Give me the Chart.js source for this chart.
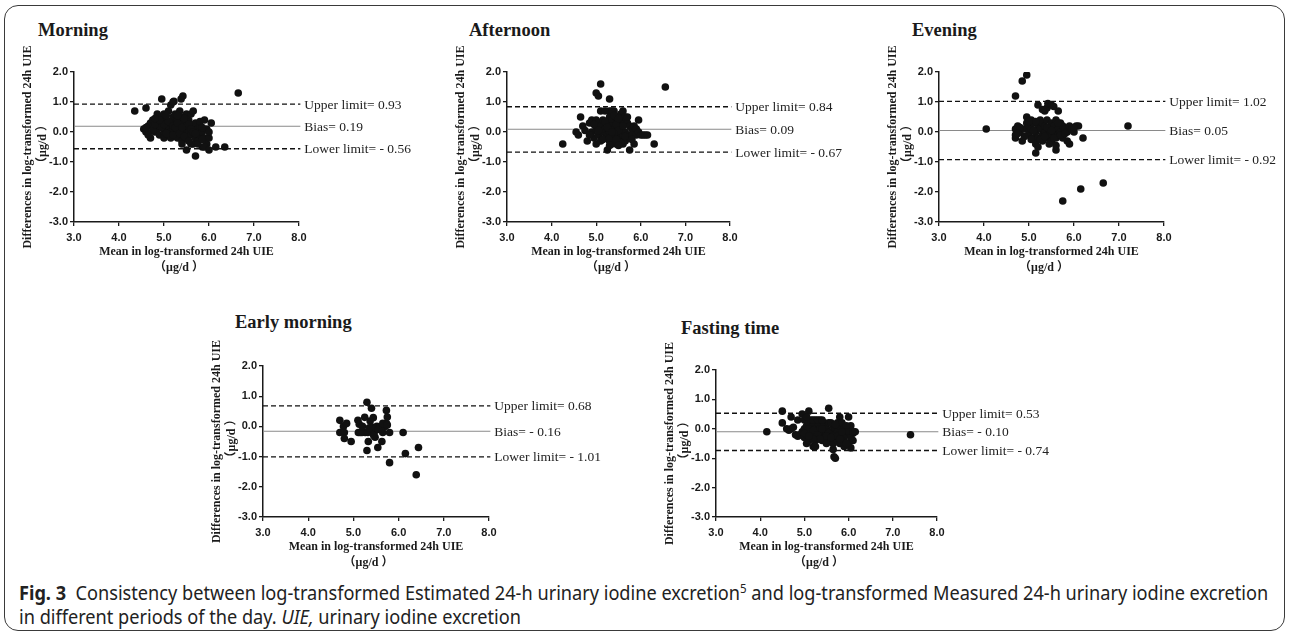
<!DOCTYPE html>
<html>
<head>
<meta charset="utf-8">
<script src="https://cdn.jsdelivr.net/npm/chart.js@4.4.1/dist/chart.umd.min.js"></script>
<style>
  body { margin: 0; width: 1290px; height: 636px; background: #fff; position: relative; overflow: hidden; }
  .frame { position: absolute; left: 4px; top: 5px; width: 1279px; height: 624px; border: 1.5px solid #3a3a3a; border-radius: 14px; }
  canvas { position: absolute; }
  .ttl { position: absolute; font: bold 18.5px "Liberation Serif", serif; line-height: 18px; color: #1a1a1a; white-space: nowrap; }
  .cap { position: absolute; left: 19px; top: 581px; font: 19px "Noto Sans", sans-serif; line-height: 24px; color: #222; white-space: nowrap; }
  .cap .ln { transform-origin: 0 50%; width: max-content; }
  .cap sup { font-size: 12px; line-height: 0; }
</style>
</head>
<body>
<div class="frame"></div>
<div class="cap" id="cap">
  <div class="ln"><b>Fig. 3</b>&nbsp; Consistency between log-transformed Estimated 24-h urinary iodine excretion<sup>5</sup> and log-transformed Measured 24-h urinary iodine excretion</div>
  <div class="ln">in different periods of the day. <i>UIE,</i> urinary iodine excretion</div>
</div>
<script>
const panelNames = ['Morning', 'Afternoon', 'Evening', 'Early morning', 'Fasting time'];
const xTicks = [3, 4, 5, 6, 7, 8];
const yTicks = [-3, -2, -1, 0, 1, 2];
const upperLimits = [0.93, 0.84, 1.02, 0.68, 0.53];
const biasValues = [0.19, 0.09, 0.05, -0.16, -0.10];
const lowerLimits = [-0.56, -0.67, -0.92, -1.01, -0.74];

// mean (x) vs difference (y)
const morningPts = [
  [4.35,0.7],[4.6,0.8],[4.95,1.1],[5.15,0.9],[5.2,1.0],[5.22,1.02],[5.38,1.1],[5.42,1.2],[6.65,1.3],
  [4.55,0.1],[4.6,0.0],[4.65,0.2],[4.7,0.3],[4.7,-0.2],[4.75,0.4],[4.8,0.0],[4.85,0.6],[4.85,0.1],[4.9,0.2],[4.9,-0.1],
  [4.95,0.5],[4.95,0.3],[5.0,0.6],[5.0,0.0],[5.0,-0.2],[5.05,0.4],[5.05,0.1],[5.1,0.7],[5.1,0.2],[5.1,-0.1],
  [5.15,0.3],[5.15,0.0],[5.15,-0.2],[5.2,0.5],[5.2,0.1],[5.25,0.6],[5.25,0.3],[5.25,-0.1],[5.3,0.4],[5.3,0.0],
  [5.3,-0.2],[5.35,0.7],[5.35,0.2],[5.35,0.1],[5.4,0.5],[5.4,-0.3],[5.4,-0.4],[5.45,0.3],[5.45,0.0],[5.5,0.6],
  [5.5,0.2],[5.5,-0.2],[5.55,0.4],[5.55,0.0],[5.6,0.6],[5.6,-0.1],[5.65,0.7],[5.65,0.2],[5.65,-0.4],[5.7,0.3],
  [5.7,-0.2],[5.75,0.1],[5.75,-0.3],[5.8,0.2],[5.8,-0.1],[5.85,0.0],[5.85,-0.5],[5.9,0.4],[5.9,-0.2],[5.95,0.1],
  [5.95,-0.4],[6.0,-0.2],[6.0,0.0],[6.05,0.3],[5.5,-0.6],[5.6,-0.4],[5.7,-0.8],[5.75,-0.4],[5.9,-0.5],[6.0,-0.6],
  [6.15,-0.5],[6.35,-0.5],[4.6,0.15],[4.75,0.05],[4.8,0.25],[4.95,0.15],[5.0,0.25],[5.05,-0.05],[5.1,0.35],[5.2,0.2],
  [5.2,-0.1],[5.25,0.15],[5.3,0.3],[5.35,-0.05],[5.4,0.15],[5.45,0.45],[5.05,0.55],[4.9,0.4],[5.3,0.55],[5.55,0.25],
  [5.6,0.1],[5.65,0.0],[5.8,0.35],[5.85,0.15],[5.7,-0.05],[4.65,-0.1],[4.8,0.45],[5.45,-0.15],[5.55,-0.3],[5.85,-0.25]
];
const afternoonPts = [
  [4.25,-0.4],[5.1,1.6],[5.0,1.3],[5.05,1.2],[5.3,1.1],[6.55,1.5],[4.65,0.5],[4.55,0.0],[4.6,-0.1],[4.7,0.2],
  [4.8,-0.3],[4.85,0.3],[4.9,0.4],[4.9,0.0],[4.95,-0.2],[5.0,0.4],[5.0,0.1],[5.0,-0.4],[5.05,0.3],[5.05,-0.1],
  [5.1,0.7],[5.1,0.2],[5.1,-0.3],[5.15,0.4],[5.15,0.0],[5.2,0.1],[5.2,-0.2],[5.25,0.3],[5.25,-0.1],[5.25,-0.6],
  [5.3,0.7],[5.3,0.5],[5.3,0.0],[5.3,-0.3],[5.35,0.4],[5.35,0.2],[5.35,-0.1],[5.35,-0.4],[5.4,0.7],[5.4,0.1],
  [5.4,-0.2],[5.4,-0.3],[5.45,0.5],[5.45,0.0],[5.45,-0.4],[5.5,0.3],[5.5,-0.1],[5.5,-0.3],[5.55,0.6],[5.55,0.1],
  [5.55,-0.2],[5.6,0.7],[5.6,0.4],[5.6,-0.1],[5.6,-0.4],[5.65,0.5],[5.65,0.0],[5.65,-0.3],[5.7,0.3],[5.7,-0.1],
  [5.75,0.2],[5.75,-0.2],[5.75,-0.6],[5.8,0.1],[5.8,-0.1],[5.85,0.2],[5.85,-0.4],[5.9,0.1],[5.9,-0.1],[5.95,0.4],
  [5.95,0.0],[6.0,-0.1],[6.05,-0.1],[6.1,-0.1],[6.15,-0.1],[6.3,-0.4],[5.2,0.7],[5.35,0.7],[4.95,0.25],[5.15,-0.25],
  [5.2,0.35],[5.45,0.25],[5.5,0.05],[5.55,-0.35],[5.3,-0.2],[5.4,-0.05],[5.25,0.15],[5.6,0.2],[5.7,0.5],[5.05,0.05],
  [4.75,0.05],[4.85,-0.1],[5.65,-0.15],[5.45,-0.25],[5.35,0.0],[5.4,0.55],[5.5,0.45],[5.3,-0.45],[5.5,-0.45],[5.8,-0.25]
];
const eveningPts = [
  [4.05,0.1],[4.7,1.2],[4.85,1.7],[4.95,1.9],[7.2,0.2],[5.75,-2.3],[6.15,-1.9],[6.65,-1.7],[6.2,-0.2],[5.15,-0.7],
  [5.6,-0.6],[5.9,-0.4],[5.85,-0.3],[5.65,0.7],[5.2,0.9],[5.35,0.7],[5.4,0.8],[5.42,0.95],[5.5,0.9],[5.55,0.85],
  [5.3,0.75],[4.7,-0.2],[4.7,-0.1],[4.7,0.1],[4.75,0.2],[4.8,0.0],[4.85,-0.3],[4.9,0.1],[4.95,0.5],[4.95,0.3],
  [5.0,0.2],[5.0,-0.1],[5.0,0.0],[5.05,0.4],[5.05,0.1],[5.1,-0.2],[5.1,0.3],[5.15,0.0],[5.15,-0.4],[5.2,0.2],
  [5.2,-0.2],[5.2,-0.5],[5.25,0.4],[5.25,0.1],[5.3,-0.1],[5.3,0.3],[5.3,-0.3],[5.35,0.0],[5.35,0.2],[5.4,-0.2],
  [5.4,0.4],[5.45,0.1],[5.45,-0.1],[5.5,0.3],[5.5,-0.3],[5.55,0.0],[5.55,0.2],[5.6,0.4],[5.6,-0.2],[5.65,0.1],
  [5.65,-0.1],[5.7,0.3],[5.7,0.0],[5.75,0.2],[5.75,-0.2],[5.8,0.1],[5.85,0.0],[5.9,0.2],[5.95,0.1],[6.0,0.0],
  [6.05,0.2],[6.1,0.2],[5.6,-0.45],[5.05,-0.25],[5.25,-0.25],[5.45,-0.4],[5.15,0.35],[5.35,-0.15],[5.55,-0.2],[4.8,0.15],
  [4.9,-0.15],[5.1,0.05],[5.7,-0.1],[5.8,-0.05],[6.0,0.15],[5.0,0.35],[5.4,0.15],[5.5,0.05],[4.75,-0.05],[5.65,0.3]
];
const earlyPts = [
  [4.7,0.2],[4.7,-0.2],[4.78,0.0],[4.85,0.1],[4.8,-0.2],[4.8,-0.4],[4.95,-0.5],[5.1,0.2],[5.13,0.07],[5.3,0.8],
  [5.25,0.3],[5.4,0.6],[5.11,-0.2],[5.19,-0.2],[5.26,-0.2],[5.32,-0.2],[5.3,-0.8],[5.33,-0.5],[5.44,0.29],[5.37,0.18],
  [5.41,-0.02],[5.46,-0.19],[5.48,-0.36],[5.54,-0.7],[5.63,-0.5],[5.65,-0.2],[5.7,0.0],[5.73,0.1],[5.73,0.53],[5.75,0.31],
  [5.8,-0.2],[5.8,-1.2],[6.1,-0.2],[6.15,-0.9],[6.44,-0.7],[6.39,-1.6],[5.52,0.0],[5.6,-0.1],[5.15,-0.2],[5.2,0.0],
  [5.5,-0.05],[5.45,-0.3],[5.35,-0.05],[5.55,-0.1],[5.65,0.1],[5.75,0.05]
];
const fastingPts = [
  [4.15,-0.1],[7.4,-0.2],[4.5,0.6],[4.5,0.2],[4.7,0.4],[4.6,0.0],[4.65,-0.05],[4.7,0.0],[4.85,0.3],[4.95,0.5],
  [5.1,0.6],[5.55,0.7],[5.8,0.4],[6.0,0.4],[6.05,0.1],[6.1,-0.15],[6.1,-0.4],[6.05,-0.65],[5.65,-0.7],[5.67,-0.95],
  [5.7,-1.0],[5.2,-0.6],[5.05,-0.5],[4.85,-0.25],[4.9,-0.2],[4.95,-0.1],[5.0,0.0],[5.0,0.3],[5.0,-0.3],[5.05,0.1],
  [5.05,-0.2],[5.1,0.2],[5.1,-0.1],[5.1,-0.4],[5.15,0.3],[5.15,0.0],[5.15,-0.3],[5.2,0.1],[5.2,-0.2],[5.25,0.3],
  [5.25,0.0],[5.25,-0.4],[5.25,-0.6],[5.3,0.2],[5.3,-0.1],[5.3,-0.3],[5.35,0.3],[5.35,0.0],[5.35,-0.2],[5.4,0.1],
  [5.4,-0.1],[5.4,-0.4],[5.45,0.2],[5.45,-0.2],[5.45,-0.3],[5.5,0.0],[5.5,-0.1],[5.5,-0.5],[5.55,0.2],[5.55,-0.3],
  [5.6,-0.1],[5.6,-0.2],[5.6,-0.4],[5.65,0.1],[5.65,-0.5],[5.7,-0.2],[5.7,-0.3],[5.7,0.0],[5.75,0.2],[5.75,-0.4],
  [5.75,-0.1],[5.8,0.1],[5.8,-0.2],[5.8,-0.5],[5.85,0.2],[5.85,-0.3],[5.9,0.0],[5.9,-0.4],[5.9,-0.6],[5.95,0.1],
  [5.95,-0.2],[6.0,-0.5],[6.0,-0.1],[6.05,-0.3],[6.1,-0.1],[6.15,-0.1],[5.05,0.4],[5.2,0.3],[5.3,0.3],[5.4,0.3],
  [5.6,0.2],[5.7,0.15],[5.1,0.0],[5.2,-0.05],[5.3,-0.2],[5.4,0.0],[5.55,-0.15],[5.65,-0.25],[5.75,-0.25],[5.85,-0.1],
  [5.5,-0.25],[5.35,-0.35],[5.2,-0.35],[5.0,-0.15],[5.1,-0.25],[5.6,-0.3],[5.85,-0.45],[5.95,-0.5],[5.8,-0.35],[4.75,0.05],
  [4.8,-0.2]
];
const panelPts = [morningPts, afternoonPts, eveningPts, earlyPts, fastingPts];

// where each plot area sits on the page: y axis x, top, bottom, right, title position
const boxes = [
  { ax: 74,  top: 72,  bottom: 222, right: 299, tx: 38,  ty: 21 },
  { ax: 507, top: 72,  bottom: 222, right: 730, tx: 469, ty: 21 },
  { ax: 939, top: 72,  bottom: 222, right: 1164, tx: 912, ty: 21 },
  { ax: 263, top: 366, bottom: 517, right: 489, tx: 235, ty: 313 },
  { ax: 716, top: 370, bottom: 517, right: 937, tx: 681, ty: 319 }
];

const YW = 54, XH = 54, PT = 34, PR = 125;
const ink = '#1a1a1a';
const fmt = v => (v < 0 ? '- ' : '') + Math.abs(v).toFixed(2);

const limitLabels = {
  id: 'limitLabels',
  afterDatasetsDraw(chart) {
    const { ctx, scales: { x, y } } = chart;
    ctx.save();
    ctx.font = '13.5px "Liberation Serif"';
    ctx.fillStyle = '#222';
    ctx.textBaseline = 'middle';
    chart.data.datasets.forEach(ds => {
      if (!ds.tag) return;
      const p = ds.data[ds.data.length - 1];
      ctx.fillText(ds.tag, x.getPixelForValue(p.x) + 4, y.getPixelForValue(p.y) + 1);
    });
    ctx.restore();
  }
};

function refLine(v, tag, dashed) {
  return {
    data: [{ x: xTicks[0], y: v }, { x: xTicks[xTicks.length - 1] + 0.03, y: v }],
    showLine: true, pointRadius: 0, pointHoverRadius: 0,
    borderColor: dashed ? '#111' : '#8a8a8a',
    borderWidth: dashed ? 1.4 : 1.1,
    borderDash: dashed ? [5, 3] : [],
    clip: false, order: 2, tag: tag
  };
}

function makePanel(i) {
  const b = boxes[i];
  const t = document.createElement('div');
  t.className = 'ttl';
  t.style.left = b.tx + 'px';
  t.style.top = b.ty + 'px';
  t.textContent = panelNames[i];
  document.body.appendChild(t);

  const cv = document.createElement('canvas');
  const left = b.ax - YW, top = b.top - PT;
  const w = b.right - left + PR, h = b.bottom + XH - top;
  cv.width = w; cv.height = h;
  cv.style.left = left + 'px'; cv.style.top = top + 'px';
  cv.style.width = w + 'px'; cv.style.height = h + 'px';
  document.body.appendChild(cv);

  const tickFont = { family: '"Liberation Sans", Arial, sans-serif', weight: 'bold', size: 11 };
  const titleFamily = '"Liberation Serif", "Noto Sans CJK SC", serif';

  new Chart(cv, {
    type: 'scatter',
    data: {
      datasets: [
        {
          data: panelPts[i].map(p => ({ x: p[0], y: p[1] })),
          backgroundColor: '#111', borderWidth: 0, pointRadius: 3.8, order: 1
        },
        refLine(upperLimits[i], 'Upper limit= ' + fmt(upperLimits[i]), true),
        refLine(biasValues[i], 'Bias= ' + fmt(biasValues[i]), false),
        refLine(lowerLimits[i], 'Lower limit= ' + fmt(lowerLimits[i]), true)
      ]
    },
    options: {
      responsive: false,
      animation: false,
      devicePixelRatio: 1,
      layout: { padding: { top: PT, right: PR, left: 0, bottom: 0 } },
      plugins: { legend: { display: false }, tooltip: { enabled: false } },
      scales: {
        x: {
          type: 'linear', min: xTicks[0], max: xTicks[xTicks.length - 1],
          afterBuildTicks: s => { s.ticks = xTicks.map(v => ({ value: v })); },
          afterFit: s => { s.height = XH; },
          ticks: { callback: v => v.toFixed(1), font: tickFont, color: ink, padding: 5, maxRotation: 0 },
          grid: { drawOnChartArea: false, drawTicks: true, tickLength: 4, color: ink, lineWidth: 1.3 },
          border: { display: true, color: ink, width: 1.5 },
          title: {
            display: true,
            text: ['Mean in log-transformed 24h UIE', '（μg/d ）     '],
            font: { family: titleFamily, weight: 'bold', size: 12, lineHeight: 1.33 },
            color: ink, padding: 0
          }
        },
        y: {
          type: 'linear', min: yTicks[0], max: yTicks[yTicks.length - 1],
          afterBuildTicks: s => { s.ticks = yTicks.map(v => ({ value: v })); },
          afterFit: s => { s.width = YW; },
          ticks: { callback: v => v.toFixed(1), font: tickFont, color: ink, padding: 2 },
          grid: { drawOnChartArea: false, drawTicks: true, tickLength: 4, color: ink, lineWidth: 1.3 },
          border: { display: true, color: ink, width: 1.5 },
          title: {
            display: true,
            text: ['Differences in log-transformed 24h UIE', '  （μg/d ）'],
            font: { family: titleFamily, weight: 'bold', size: 12, lineHeight: 1.25 },
            color: ink, padding: 0
          }
        }
      }
    },
    plugins: [limitLabels]
  });
}

for (let i = 0; i < panelNames.length; i++) makePanel(i);

// squeeze the caption lines to the condensed width of the original
const lines = document.querySelectorAll('#cap .ln');
const k = 1249 / lines[0].scrollWidth;
lines.forEach(l => { l.style.transform = 'scaleX(' + k + ')'; });
</script>
</body>
</html>
